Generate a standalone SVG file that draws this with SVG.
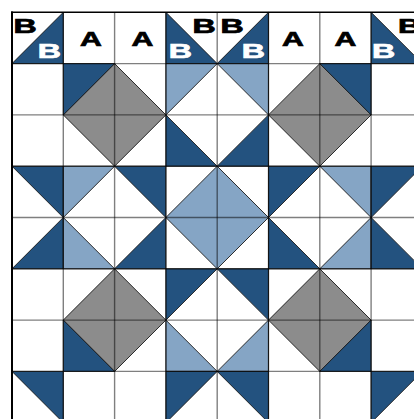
<svg xmlns="http://www.w3.org/2000/svg" width="414" height="419" viewBox="0 0 414 419">
<style>
.d{fill:#23527f}
.l{fill:#85a5c5}
.g{fill:#8c8c8c}
.tri polygon{stroke:#1a1a1a;stroke-width:0.9;stroke-linejoin:miter;vector-effect:non-scaling-stroke}
.grid line{stroke:#000;stroke-opacity:0.5;stroke-width:1.4;vector-effect:non-scaling-stroke}
text{font-family:"Liberation Sans",Arial,sans-serif;font-weight:bold;font-size:19.5px;text-anchor:middle;stroke-width:0.7}
.k{fill:#000;stroke:#000}
.w{fill:#fff;stroke:#fff}
</style>
<rect x="0" y="0" width="414" height="419" fill="#fff"/>
<g id="quilt" transform="translate(12,12.3) scale(51.3)">
<g id="patches" class="tri">
<polygon class="d" points="0,1 1,0 1,1"/>
<polygon class="d" points="3,0 3,1 4,1"/>
<polygon class="d" points="4,1 5,0 5,1"/>
<polygon class="d" points="7,0 7,1 8,1"/>
<polygon class="g" points="2,1 3,2 2,3 1,2"/>
<polygon class="g" points="6,1 7,2 6,3 5,2"/>
<polygon class="g" points="2,5 3,6 2,7 1,6"/>
<polygon class="g" points="6,5 7,6 6,7 5,6"/>
<polygon class="l" points="4,3 5,4 4,5 3,4"/>
<polygon class="d" points="1,1 2,1 1,2"/>
<polygon class="l" points="3,1 4,1 3,2"/>
<polygon class="l" points="4,1 5,1 5,2"/>
<polygon class="d" points="6,1 7,1 7,2"/>
<polygon class="d" points="3,2 3,3 4,3"/>
<polygon class="d" points="5,2 5,3 4,3"/>
<polygon class="d" points="0,3 1,3 1,4"/>
<polygon class="l" points="1,3 2,3 1,4"/>
<polygon class="d" points="2,3 3,3 3,4"/>
<polygon class="d" points="5,3 6,3 5,4"/>
<polygon class="l" points="6,3 7,3 7,4"/>
<polygon class="d" points="7,3 8,3 7,4"/>
<polygon class="d" points="1,4 1,5 0,5"/>
<polygon class="l" points="1,4 1,5 2,5"/>
<polygon class="d" points="3,4 3,5 2,5"/>
<polygon class="d" points="5,4 5,5 6,5"/>
<polygon class="l" points="7,4 7,5 6,5"/>
<polygon class="d" points="7,4 7,5 8,5"/>
<polygon class="d" points="3,5 4,5 3,6"/>
<polygon class="d" points="4,5 5,5 5,6"/>
<polygon class="d" points="1,6 1,7 2,7"/>
<polygon class="l" points="3,6 3,7 4,7"/>
<polygon class="l" points="5,6 5,7 4,7"/>
<polygon class="d" points="7,6 7,7 6,7"/>
<polygon class="d" points="0,7 1,7 1,8"/>
<polygon class="d" points="3,7 4,7 3,8"/>
<polygon class="d" points="4,7 5,7 5,8"/>
<polygon class="d" points="7,7 8,7 7,8"/>
</g>
<g id="grid" class="grid">
<line x1="1" y1="0" x2="1" y2="8"/>
<line x1="2" y1="0" x2="2" y2="8"/>
<line x1="3" y1="0" x2="3" y2="8"/>
<line x1="4" y1="0" x2="4" y2="8"/>
<line x1="5" y1="0" x2="5" y2="8"/>
<line x1="6" y1="0" x2="6" y2="8"/>
<line x1="7" y1="0" x2="7" y2="8"/>
<line x1="0" y1="1" x2="8" y2="1"/>
<line x1="0" y1="2" x2="8" y2="2"/>
<line x1="0" y1="3" x2="8" y2="3"/>
<line x1="0" y1="4" x2="8" y2="4"/>
<line x1="0" y1="5" x2="8" y2="5"/>
<line x1="0" y1="6" x2="8" y2="6"/>
<line x1="0" y1="7" x2="8" y2="7"/>
</g>
</g>
<g id="border" stroke="#000" fill="none">
<line x1="12" y1="11.5" x2="12" y2="419" stroke-width="2"/>
<line x1="11" y1="12.3" x2="414" y2="12.3" stroke-width="1.6"/>
</g>
<g id="labels">
<text class="k" transform="translate(25,32.5) scale(1.65,1)">B</text>
<text class="w" transform="translate(49.3,57.5) scale(1.65,1)">B</text>
<text class="k" transform="translate(90.8,45.7) scale(1.55,1)">A</text>
<text class="k" transform="translate(142.5,45.7) scale(1.55,1)">A</text>
<text class="k" transform="translate(204.2,33) scale(1.65,1)">B</text>
<text class="w" transform="translate(180.3,57.5) scale(1.65,1)">B</text>
<text class="k" transform="translate(232.2,33) scale(1.65,1)">B</text>
<text class="w" transform="translate(253.3,57.5) scale(1.65,1)">B</text>
<text class="k" transform="translate(293,45.7) scale(1.55,1)">A</text>
<text class="k" transform="translate(345.5,45.7) scale(1.55,1)">A</text>
<text class="w" transform="translate(383.7,57.5) scale(1.65,1)">B</text>
<text class="k" transform="translate(409.5,33) scale(1.65,1)">B</text>
</g>
</svg>
